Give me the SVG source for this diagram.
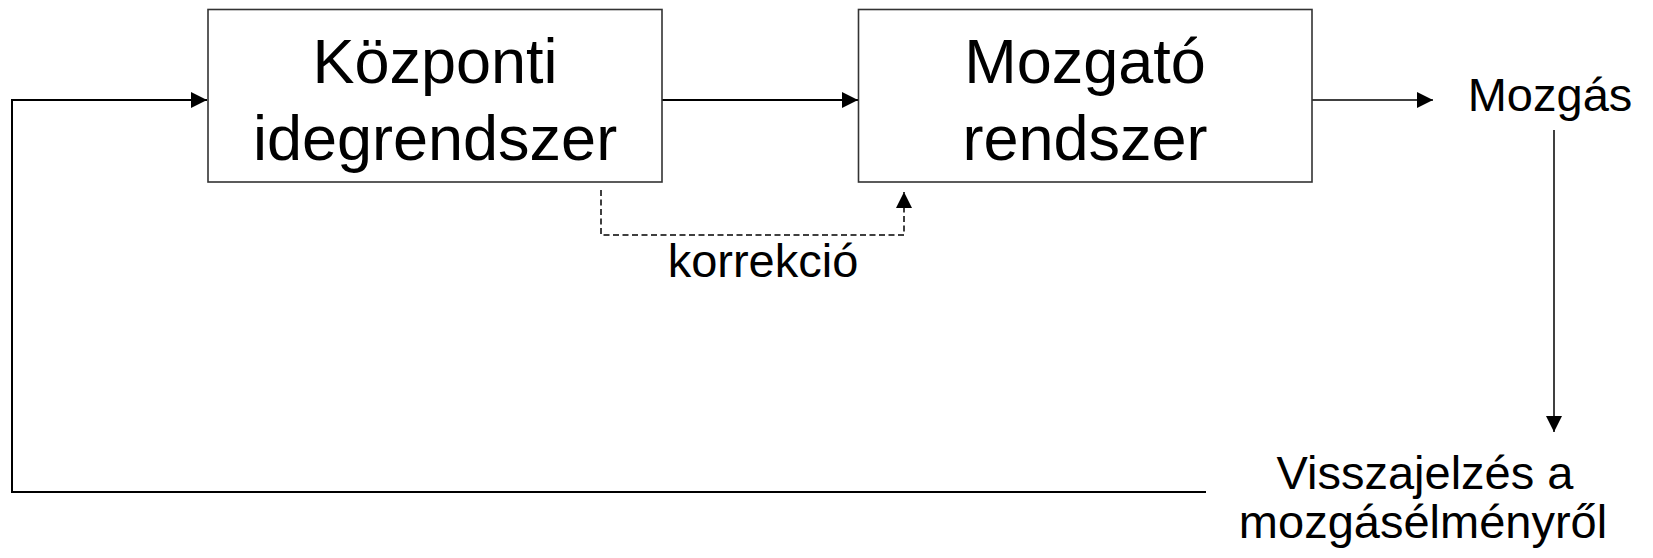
<svg xmlns="http://www.w3.org/2000/svg" width="1653" height="558" viewBox="0 0 1653 558">
  <style>
    .box { fill: #ffffff; stroke: #333333; stroke-width: 1.6; }
    .big { font-family: "Liberation Sans", Arial, sans-serif; font-size: 63px; fill: #000000; text-anchor: middle; }
    .lbl { font-family: "Liberation Sans", Arial, sans-serif; font-size: 47px; fill: #000000; text-anchor: middle; }
    .wire { fill: none; stroke: #000000; stroke-width: 2; }
    .thin { fill: none; stroke: #000000; stroke-width: 1.5; }
    .dash { fill: none; stroke: #000000; stroke-width: 1.5; stroke-dasharray: 6 3.5; }
  </style>
  <defs>
    <marker id="arrow" viewBox="0 0 16 16" refX="16" refY="8" markerWidth="16" markerHeight="16" markerUnits="userSpaceOnUse" orient="auto">
      <path d="M0,0 L16,8 L0,16 Z" fill="#000000"/>
    </marker>
  </defs>
  <rect width="1653" height="558" fill="#ffffff"/>

  <g id="connectors">
    <!-- feedback loop back into the central nervous system -->
    <path class="wire" d="M1206,492 L12,492 L12,100 L207,100" marker-end="url(#arrow)"/>
    <!-- central nervous system to motor system -->
    <path class="wire" d="M662,100 L858,100" marker-end="url(#arrow)"/>
    <!-- motor system to movement -->
    <path class="thin" d="M1312,100 L1433,100" marker-end="url(#arrow)"/>
    <!-- movement to feedback -->
    <path class="thin" d="M1554,130 L1554,432" marker-end="url(#arrow)"/>
    <!-- correction path -->
    <path class="dash" d="M601,190 L601,235 L904,235 L904,192" marker-end="url(#arrow)"/>
  </g>

  <g id="kozponti">
    <rect class="box" x="208" y="9.5" width="454" height="172.5"/>
    <text class="big" x="435" y="83">Központi</text>
    <text class="big" x="435" y="160">idegrendszer</text>
  </g>

  <g id="mozgato">
    <rect class="box" x="858.5" y="9.5" width="453.5" height="172.5"/>
    <text class="big" x="1085" y="83">Mozgató</text>
    <text class="big" x="1085" y="160">rendszer</text>
  </g>

  <g id="mozgas">
    <text class="lbl" x="1550" y="111">Mozgás</text>
  </g>

  <g id="visszajelzes">
    <text class="lbl" x="1425" y="489">Visszajelzés a</text>
    <text class="lbl" x="1423" y="538">mozgásélményről</text>
  </g>

  <g id="korrekcio">
    <text class="lbl" x="763" y="277">korrekció</text>
  </g>
</svg>
